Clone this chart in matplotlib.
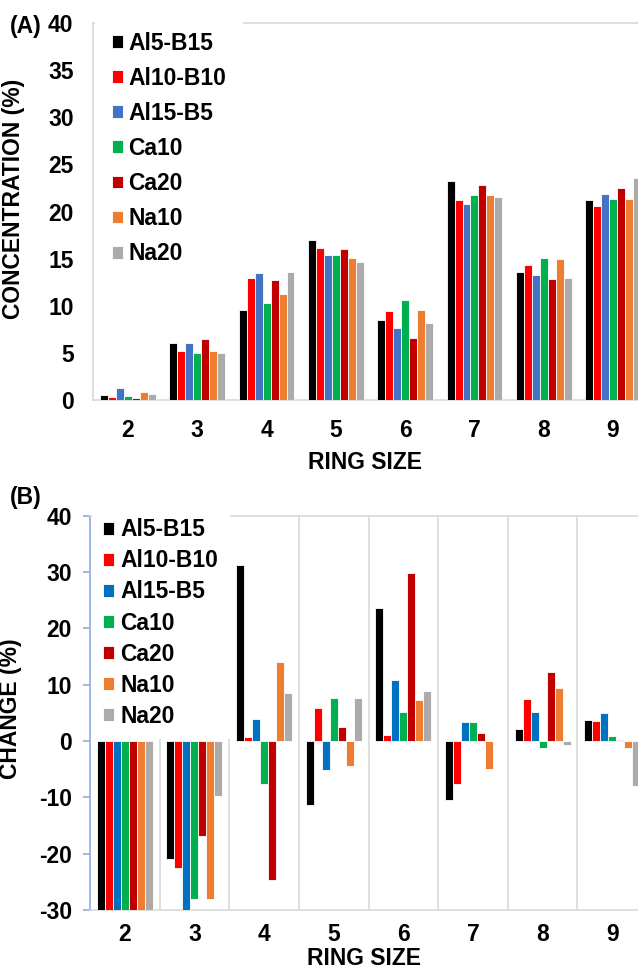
import numpy as np
import matplotlib
matplotlib.use("Agg")
import matplotlib.pyplot as plt

plt.rcParams['font.family'] = ['Liberation Sans', 'DejaVu Sans']
plt.rcParams['font.weight'] = 'bold'
plt.rcParams['axes.unicode_minus'] = False

#Data
ringSize = [2, 3, 4, 5, 6, 7, 8, 9]
names = ["Al5-B15", "Al10-B10", "Al15-B5", "Ca10", "Ca20", "Na10", "Na20"]

conc = {
	"Al5-B15":  [0.5, 6.0, 9.6, 17.0, 8.5, 23.2, 13.6, 21.2],
	"Al10-B10": [0.3, 5.2, 12.9, 16.1, 9.4, 21.2, 14.3, 20.6],
	"Al15-B5":  [1.3, 6.1, 13.5, 15.4, 7.6, 20.8, 13.3, 21.9],
	"Ca10":     [0.4, 5.0, 10.3, 15.4, 10.6, 21.8, 15.1, 21.3],
	"Ca20":     [0.25, 6.5, 12.7, 16.0, 6.6, 22.8, 12.8, 22.5],
	"Na10":     [0.9, 5.2, 11.2, 15.1, 9.5, 21.7, 15.0, 21.3],
	"Na20":     [0.6, 5.0, 13.6, 14.6, 8.2, 21.5, 12.9, 23.6],
}

change = {
	"Al5-B15":  [-30, -20.9, 31.3, -11.4, 23.6, -10.4, 2.2, 3.7],
	"Al10-B10": [-30, -22.6, 0.8, 5.9, 1.0, -7.7, 7.5, 3.6],
	"Al15-B5":  [-30, -30, 3.9, -5.1, 10.8, 3.4, 5.1, 4.9],
	"Ca10":     [-30, -28.1, -7.7, 7.6, 5.1, 3.4, -1.2, 0.95],
	"Ca20":     [-30, -16.9, -24.7, 2.55, 29.8, 1.5, 12.3, 0.2],
	"Na10":     [-30, -28.1, 14.0, -4.4, 7.3, -4.9, 9.4, -1.2],
	"Na20":     [-30, -9.7, 8.5, 7.6, 8.9, 0.0, -0.65, -8.0],
}

colA = ["#000000", "#FF0000", "#4472C4", "#00B050", "#C00000", "#ED7D31", "#AEAAAA"]
colB = ["#000000", "#FF0000", "#0070C0", "#00B050", "#C00000", "#ED7D31", "#AEAAAA"]

W, H = 638, 972
fig = plt.figure(figsize=(W/100, H/100), dpi=100)
gray = "#D9D9D9"
fs = 16.5
bw = 0.115
x = np.array(ringSize, dtype=float)
narrow = ["Liberation Sans Narrow", "Liberation Sans"]

#Panel A
axA = fig.add_axes([93/W, 1-400/H, (W-93)/W, 377/H])
for i, n in enumerate(names):
	axA.bar(x + (i-3)*bw, conc[n], bw, color=colA[i], edgecolor="white", linewidth=0.6, label=n, zorder=3)
axA.set_xlim(1.495, 9.36)
axA.set_ylim(0, 40)
axA.set_yticks(range(0, 41, 5))
axA.set_xticks(ringSize)
for s in ["left", "top", "bottom"]:
	axA.spines[s].set_color(gray)
	axA.spines[s].set_linewidth(1.2)
axA.spines["right"].set_visible(False)
axA.tick_params(axis="y", length=0, pad=14, labelsize=fs)
axA.tick_params(axis="x", length=0, pad=14, labelsize=fs)
axA.set_ylabel("CONCENTRATION (%)", fontsize=16.5, fontweight="bold", family=narrow)
axA.yaxis.set_label_coords(-0.125, 0.533)
axA.set_xlabel("RING SIZE", fontsize=fs, fontweight="bold", labelpad=6)
lgA = axA.legend(loc="upper left", bbox_to_anchor=(95/W, 1-15/H), bbox_transform=fig.transFigure,
	borderaxespad=0, borderpad=0.72, handlelength=0.48, handleheight=0.48, handletextpad=0.26,
	labelspacing=0.53, fontsize=fs, frameon=True, fancybox=False)
lgA.get_frame().set_facecolor("white")
lgA.get_frame().set_edgecolor("none")
lgA.get_frame().set_alpha(1)

#Panel B
axB = fig.add_axes([90/W, 1-910/H, (W-90)/W, 394.3/H])
for i, n in enumerate(names):
	axB.bar(x + (i-3)*bw, change[n], bw, color=colB[i], edgecolor="white", linewidth=0.6, label=n, zorder=3)
axB.set_xlim(1.5, 9.37)
axB.set_ylim(-30, 40)
axB.set_yticks(range(-30, 41, 10))
axB.set_xticks(ringSize)
axB.set_xticks(np.arange(2.5, 9, 1), minor=True)
axB.grid(True, axis="x", which="minor", color=gray, linewidth=1.2, zorder=0)
for s in ["top", "bottom"]:
	axB.spines[s].set_color(gray)
	axB.spines[s].set_linewidth(1.2)
axB.spines["right"].set_visible(False)
axB.spines["left"].set_color("#8FAADC")
axB.spines["left"].set_linewidth(1.2)
axB.tick_params(axis="y", length=5, width=1.2, color="#8FAADC", pad=8, labelsize=fs)
axB.tick_params(axis="x", which="both", length=0, pad=9, labelsize=fs)
axB.set_ylabel("CHANGE (%)", fontsize=16.5, fontweight="bold", family=narrow)
axB.yaxis.set_label_coords(-0.124, 0.51)
axB.set_xlabel("RING SIZE", fontsize=fs, fontweight="bold", labelpad=1)
lgB = axB.legend(loc="upper left", bbox_to_anchor=(92/W, 1-507/H), bbox_transform=fig.transFigure,
	borderaxespad=0, borderpad=0.5, handlelength=0.48, handleheight=0.48, handletextpad=0.26,
	labelspacing=0.35, fontsize=fs, frameon=True, fancybox=False)
lgB.get_frame().set_facecolor("white")
lgB.get_frame().set_edgecolor("none")
lgB.get_frame().set_alpha(1)

fig.text(10/W, 1-26/H, "(A)", fontsize=fs, fontweight="bold", va="center", ha="left")
fig.text(10/W, 1-497/H, "(B)", fontsize=fs, fontweight="bold", va="center", ha="left")

fig.savefig("out.png", dpi=100)
